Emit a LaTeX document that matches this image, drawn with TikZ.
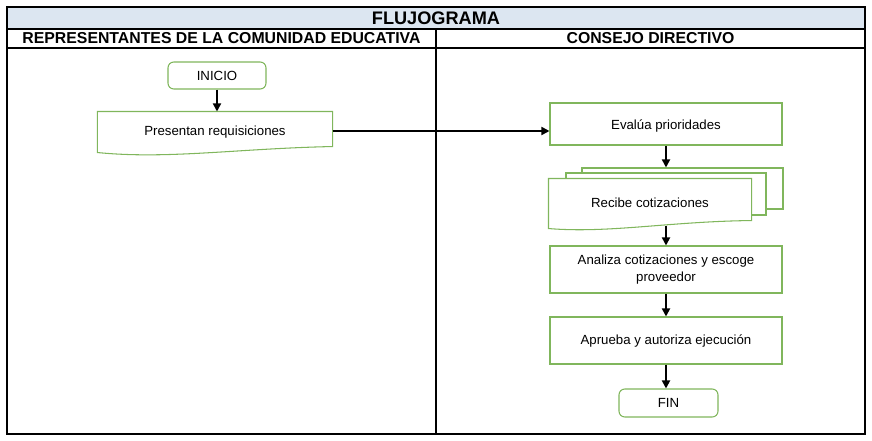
\documentclass[tikz,border=0pt]{standalone}
\usepackage{fontspec}
\setmainfont{Liberation Sans}
\usetikzlibrary{arrows.meta,calc,positioning}
\definecolor{boxgreen}{RGB}{128,182,92}
\definecolor{titleblue}{RGB}{220,230,241}

\begin{document}
\begin{tikzpicture}[x=0.03cm,y=-0.03cm,>={Triangle[width=7pt,length=7pt]},
  proc/.style={draw=boxgreen,line width=0.9pt,fill=white,minimum width=6.96cm,
    minimum height=1.41cm,font=\fontsize{11.3}{14.5}\selectfont,align=center},
  term/.style={proc,rounded corners=5pt,minimum width=2.94cm,minimum height=0.81cm},
  docbox/.style={proc,draw=none,fill=none},
  docline/.style={draw=boxgreen,line width=0.9pt},
  flow/.style={->,line width=1.5pt},
  head/.style={font=\bfseries\fontsize{13.5}{16}\selectfont}]

\useasboundingbox (0,0) rectangle (872,440);

% --- tabla ---
\fill[titleblue] (7,7) rectangle (865,29);
\draw[line width=1.1pt] (7,29) -- (865,29) (7,48) -- (865,48) (436,29) -- (436,434);
\draw[line width=1.3pt] (7,7) rectangle (865,434);
\node[head,font=\bfseries\fontsize{15.5}{18}\selectfont] (titulo) at (436,18) {FLUJOGRAMA};
\node[head] (carril1) at (221.5,38.5) {REPRESENTANTES DE LA COMUNIDAD EDUCATIVA};
\node[head] (carril2) at (650.5,38.5) {CONSEJO DIRECTIVO};

% --- representantes ---
\node[term] (inicio) at (217,75.5) {INICIO};
\node[docbox,minimum width=7.02cm,minimum height=1.14cm] (pres) at (215,131) {};
\draw[docline] (pres.north west) -- ($(pres.south west)+(0,2)$)
  .. controls ($(pres.south west)+(70,9)$) and ($(pres.south west)+(140,-2)$)
  .. ($(pres.south east)+(0,-4)$) -- (pres.north east) -- cycle;
\node[font=\fontsize{11.3}{14.5}\selectfont] at ($(pres)+(0,1)$) {Presentan requisiciones};

% --- consejo directivo ---
\node[proc,minimum height=1.26cm] (evalua) at (666,124) {};
\node[font=\fontsize{11.3}{14.5}\selectfont] at ($(evalua)+(0,2)$) {Evalúa prioridades};
\node[proc,minimum width=6.03cm,minimum height=1.23cm] (recibe3) at (682.5,188.5) {};
\node[proc,minimum width=6.0cm,minimum height=1.26cm] (recibe2) at (666,194) {};
\node[docbox,minimum width=6.06cm,minimum height=1.38cm] (recibe) at (650,202) {};
\filldraw[docline,fill=white] (recibe.north west) -- ($(recibe.south west)+(0,3)$)
  .. controls ($(recibe.south west)+(60,8)$) and ($(recibe.south west)+(120,-4)$)
  .. ($(recibe.south east)+(0,-5)$) -- (recibe.north east) -- cycle;
\node[font=\fontsize{11.3}{14.5}\selectfont] at ($(recibe)+(0,1)$) {Recibe cotizaciones};
\node[proc] (analiza) at (666,269.5) {Analiza cotizaciones y escoge\\proveedor};
\node[proc] (aprueba) at (666,340.5) {Aprueba y autoriza ejecución};
\node[term,minimum width=2.97cm,minimum height=0.84cm] (fin) at (668.5,403) {FIN};

% --- flechas ---
\draw[flow] (inicio.south) -- (inicio.south |- pres.north);
\draw[flow] (pres.east) -- (pres.east -| evalua.west);
\draw[flow] (evalua.south) -- (evalua.south |- recibe3.north);
\draw[flow] (analiza.north |- recibe.south) -- (analiza.north);
\draw[flow] (analiza.south) -- (aprueba.north);
\draw[flow] (aprueba.south) -- (aprueba.south |- fin.north);

\end{tikzpicture}
\end{document}
